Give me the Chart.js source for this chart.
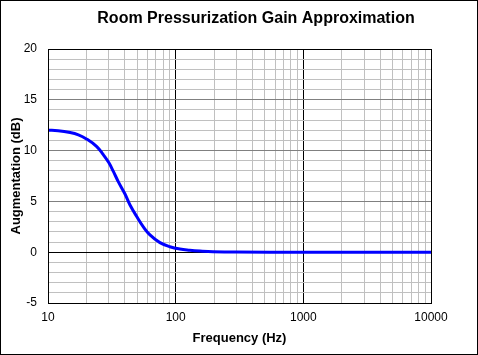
<!DOCTYPE html>
<html>
<head>
<meta charset="utf-8">
<script src="https://cdn.jsdelivr.net/npm/chart.js@4/dist/chart.umd.min.js"></script>
<style>
html,body{margin:0;padding:0;background:#fff;}
#wrap{position:absolute;left:0;top:0;width:478px;height:355px;}
</style>
</head>
<body>
<div id="wrap"><canvas id="c" width="478" height="355"></canvas></div>
<script>
const chartTitle = "Room Pressurization Gain Approximation";
const xAxisTitle = "Frequency (Hz)";
const yAxisTitle = "Augmentation (dB)";
const frequencies = [10, 12, 14.9, 17.3, 20, 24.1, 27.1, 30, 32.5, 35.5, 40, 43.9, 49.5, 55.8, 62.9, 75.3, 90, 108, 129, 155, 196, 300, 1000, 3000, 10000];
const gainDb =      [12.0, 11.96, 11.78, 11.55, 11.15, 10.4, 9.6, 8.8, 7.95, 6.95, 5.75, 4.65, 3.52, 2.5, 1.7, 0.94, 0.54, 0.31, 0.2, 0.12, 0.05, 0.01, 0, 0, 0];
const xTickValues = [10,20,30,40,50,60,70,80,90,100,200,300,400,500,600,700,800,900,1000,2000,3000,4000,5000,6000,7000,8000,9000,10000];
const xTickLabels = ["10","100","1000","10000"];
const yTickLabels = ["-5","0","5","10","15","20"];

const points = frequencies.map((f, i) => ({x: f, y: gainDb[i]}));
const isDecade = v => Math.abs(Math.log10(v) - Math.round(Math.log10(v))) < 1e-9;

const decorPlugin = {
  id: 'decor',
  beforeDraw(chart) {
    const ctx = chart.ctx;
    ctx.save();
    ctx.fillStyle = '#fff';
    ctx.fillRect(0, 0, chart.width, chart.height);
    ctx.restore();
  },
  afterDraw(chart) {
    const ctx = chart.ctx;
    ctx.save();
    ctx.strokeStyle = '#000';
    ctx.lineWidth = 1;
    ctx.strokeRect(0.5, 0.5, chart.width - 1, chart.height - 1);
    const a = chart.chartArea;
    ctx.strokeRect(Math.round(a.left) + 0.5, Math.round(a.top) + 0.5, Math.round(a.right - a.left), Math.round(a.bottom - a.top));
    ctx.fillStyle = '#000';
    ctx.font = 'bold 16px "Liberation Sans", Arial, sans-serif';
    ctx.textAlign = 'center';
    ctx.textBaseline = 'alphabetic';
    ctx.fillText(chartTitle, 256, 23);
    ctx.restore();
  }
};

new Chart(document.getElementById('c'), {
  type: 'line',
  data: {
    datasets: [{
      data: points,
      borderColor: '#0000ff',
      borderWidth: 3,
      pointRadius: 0,
      fill: false,
      tension: 0.4
    }]
  },
  options: {
    responsive: false,
    animation: false,
    devicePixelRatio: 1,
    layout: {padding: {left: 0, right: 47, top: 49, bottom: 0}},
    plugins: {legend: {display: false}, title: {display: false}, tooltip: {enabled: false}},
    scales: {
      x: {
        type: 'logarithmic',
        min: 10, max: 10000,
        afterBuildTicks(scale) { scale.ticks = xTickValues.map(v => ({value: v})); },
        afterFit(scale) { scale.height = 52; },
        border: {display: false},
        grid: {
          drawTicks: false,
          color: ctx => (ctx.tick && isDecade(ctx.tick.value)) ? '#000000' : '#c0c0c0',
          lineWidth: 1
        },
        ticks: {
          autoSkip: false, maxRotation: 0, padding: 7,
          color: '#000',
          font: {family: '"Liberation Sans", Arial, sans-serif', size: 12},
          callback: (v) => { const s = String(v); return xTickLabels.includes(s) ? s : ''; }
        },
        title: {
          display: true, text: xAxisTitle, color: '#000',
          font: {family: '"Liberation Sans", Arial, sans-serif', size: 13, weight: 'bold'},
          padding: {top: 9, bottom: 9}
        }
      },
      y: {
        min: -5, max: 20,
        afterFit(scale) { scale.width = 48; },
        border: {display: false},
        grid: {
          drawTicks: false,
          color: ctx => {
            const v = ctx.tick ? ctx.tick.value : 0;
            if (v === 0 || v === 20 || v === -5) return '#000000';
            if (v % 5 === 0) return '#808080';
            return '#c0c0c0';
          },
          lineWidth: 1
        },
        ticks: {
          stepSize: 1, autoSkip: false, padding: 11,
          color: '#000',
          font: {family: '"Liberation Sans", Arial, sans-serif', size: 12},
          callback: (v) => { const s = String(v); return yTickLabels.includes(s) ? s : ''; }
        },
        title: {
          display: true, text: yAxisTitle, color: '#000',
          font: {family: '"Liberation Sans", Arial, sans-serif', size: 13, weight: 'bold'},
          padding: {top: 9, bottom: 9}
        }
      }
    }
  },
  plugins: [decorPlugin]
});
</script>
</body>
</html>
